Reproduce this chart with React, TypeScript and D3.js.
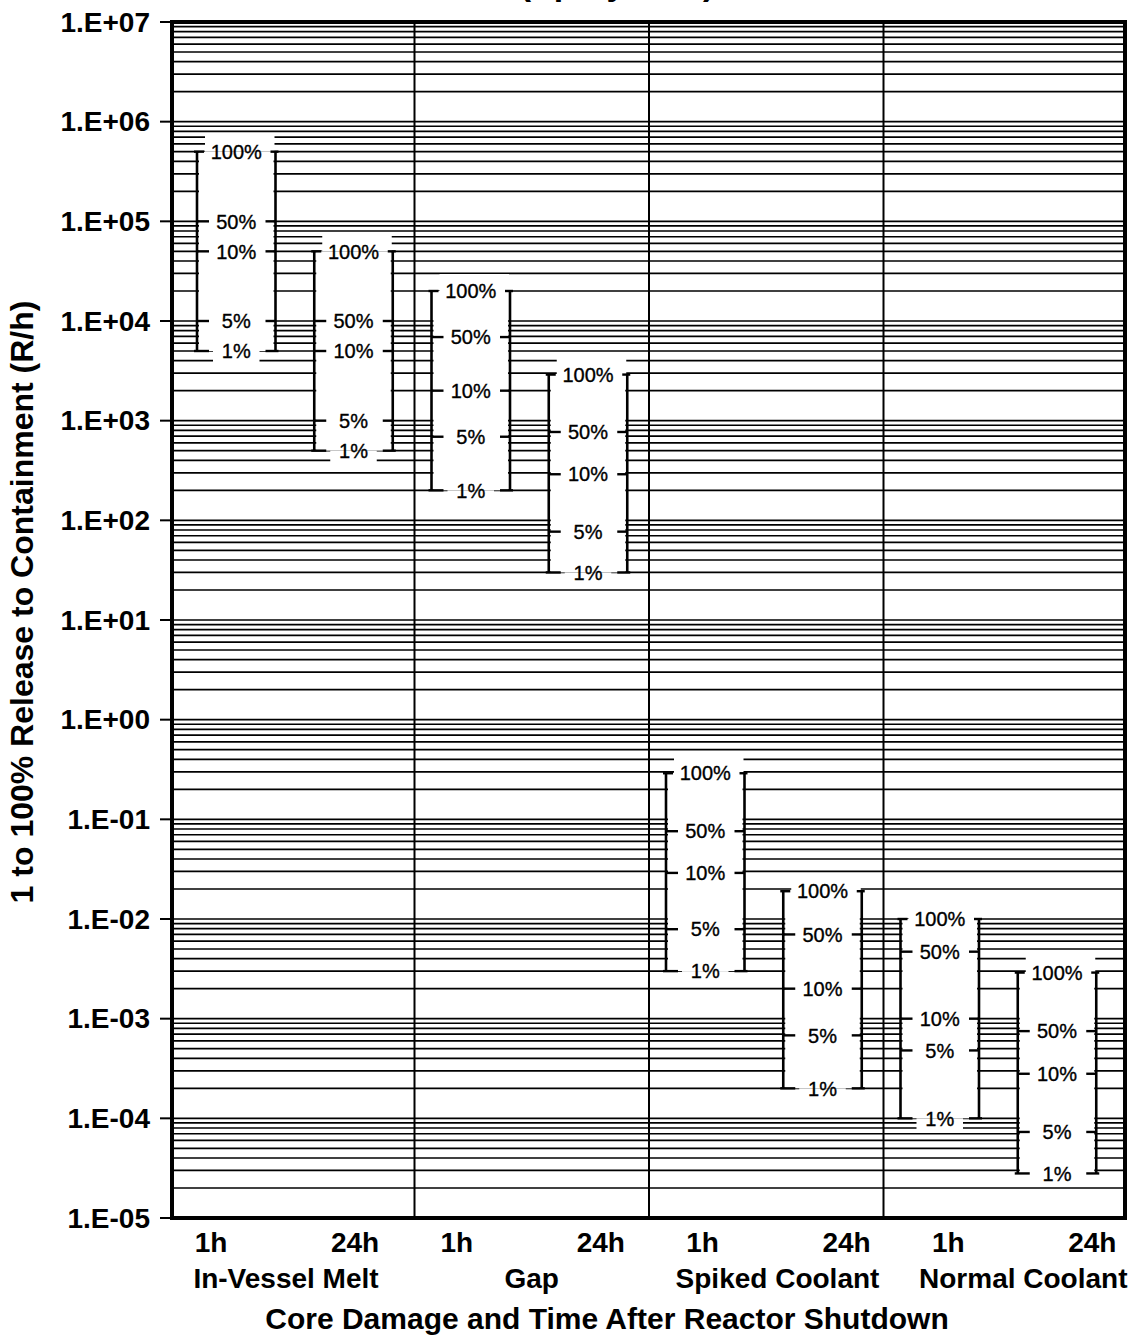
import * as d3 from 'd3'

// --- DATA ---
const categories = ['In-Vessel Melt', 'Gap', 'Spiked Coolant', 'Normal Coolant']
const times = ['1h', '24h']
const percentLabels = ['100%', '50%', '10%', '5%', '1%']

// R/h where each release mark sits (100%, 50%, 10%, 5%, 1%)
const inVesselMelt1h = [5e5, 1e5, 5e4, 1e4, 5e3]
const inVesselMelt24h = [5e4, 1e4, 5e3, 1e3, 5e2]
const gap1h = [2e4, 6.9e3, 2e3, 6.9e2, 2e2]
const gap24h = [2.9e3, 7.7e2, 2.9e2, 7.7e1, 3e1]
const spiked1h = [2.9e-1, 7.6e-2, 2.9e-2, 7.9e-3, 3e-3]
const spiked24h = [1.9e-2, 7e-3, 2e-3, 6.8e-4, 2e-4]
const normal1h = [1e-2, 4.7e-3, 1e-3, 4.8e-4, 1e-4]
const normal24h = [2.9e-3, 7.5e-4, 2.8e-4, 7.3e-5, 2.8e-5]

const readings: Record<string, number[][]> = {
  'In-Vessel Melt': [inVesselMelt1h, inVesselMelt24h],
  Gap: [gap1h, gap24h],
  'Spiked Coolant': [spiked1h, spiked24h],
  'Normal Coolant': [normal1h, normal24h],
}

const decades = d3.range(-5, 8)

const FONT = "'Liberation Sans', Arial, Helvetica, sans-serif"

const fmtDecade = (e: number) =>
  `1.E${e >= 0 ? '+' : '-'}${String(Math.abs(e)).padStart(2, '0')}`

export default function App() {
  const width = 1132
  const height = 1335
  const plot = { left: 172, right: 1125, top: 22, bottom: 1218 }

  // --- SCALES ---
  const y = d3.scaleLog().domain([1e-5, 1e7]).range([plot.bottom, plot.top])
  const xCat = d3.scaleBand<string>().domain(categories).range([180, 1118])
  const xTime = d3.scaleBand<string>().domain(times).range([0, xCat.bandwidth()])
  const xLabel = d3.scaleBand<string>().domain(categories).range([180, 1163])
  const xTimeLabel = d3.scalePoint<string>().domain(times).range([31, 175])

  const bracketInset = 17
  const bracketWidth = 78.5

  const grid = y.ticks(20)

  const brackets = categories.flatMap((c) =>
    times.map((t, ti) => {
      const L = (xCat(c) ?? 0) + (xTime(t) ?? 0) + bracketInset
      return { key: `${c}-${t}`, L, R: L + bracketWidth, vals: readings[c][ti] }
    })
  )

  return (
    <svg
      width={width}
      height={height}
      style={{ position: 'absolute', left: 0, top: 0, background: '#fff' }}
      fontFamily={FONT}
    >
      <rect width={width} height={height} fill="#fff" />

      {/* title line, cut off at the top like the source page */}
      <text x={617} y={-5} textAnchor="middle" fontSize={34} fontWeight="bold">
        (Sprays Off)
      </text>

      {/* --- GRID --- */}
      {grid.map((v) => (
        <line
          key={`g${v}`}
          x1={plot.left}
          x2={plot.right}
          y1={y(v)}
          y2={y(v)}
          stroke="#000"
          strokeWidth={1.7}
        />
      ))}

      {/* --- WHITE AREAS AROUND BRACKETS --- */}
      {brackets.map((b) => {
        const yt = y(b.vals[0])
        const yb = y(b.vals[b.vals.length - 1])
        return (
          <g key={`m${b.key}`} fill="#fff">
            <rect x={b.L + 2} y={yt} width={b.R - b.L - 4} height={yb - yt} />
            <rect x={b.L + 8} y={yt - 17} width={b.R - b.L - 9} height={17} />
            <rect x={b.L + 16} y={yb} width={b.R - b.L - 32} height={13} />
          </g>
        )
      })}

      {/* --- SEPARATORS --- */}
      {categories.slice(1).map((c) => (
        <line
          key={`s${c}`}
          x1={xCat(c)}
          x2={xCat(c)}
          y1={plot.top}
          y2={plot.bottom}
          stroke="#000"
          strokeWidth={2}
        />
      ))}

      {/* --- BRACKETS --- */}
      {brackets.map((b) => {
        const yt = y(b.vals[0])
        const yb = y(b.vals[b.vals.length - 1])
        const mid = (b.L + b.R) / 2
        return (
          <g key={`b${b.key}`}>
            <line x1={b.L} x2={b.L} y1={yt} y2={yb} stroke="#000" strokeWidth={2.6} />
            <line x1={b.R} x2={b.R} y1={yt} y2={yb} stroke="#000" strokeWidth={2.6} />
            {b.vals.map((v, i) => {
              const end = i === 0 || i === b.vals.length - 1
              const first = i === 0
              return (
                <g key={percentLabels[i]}>
                  <line
                    x1={end ? b.L - 3 : b.L}
                    x2={b.L + (first ? 7 : 12)}
                    y1={y(v)}
                    y2={y(v)}
                    stroke="#000"
                    strokeWidth={2.4}
                  />
                  <line
                    x1={b.R - (first ? 5 : 10)}
                    x2={end ? b.R + 3 : b.R}
                    y1={y(v)}
                    y2={y(v)}
                    stroke="#000"
                    strokeWidth={2.4}
                  />
                  <text
                    x={mid}
                    y={y(v)}
                    dy="0.36em"
                    textAnchor="middle"
                    fontSize={20}
                    stroke="#000"
                    strokeWidth={0.35}
                  >
                    {percentLabels[i]}
                  </text>
                </g>
              )
            })}
          </g>
        )
      })}

      {/* --- Y AXIS --- */}
      {decades.map((e) => (
        <g key={`d${e}`}>
          <line
            x1={160}
            x2={plot.left}
            y1={y(Math.pow(10, e))}
            y2={y(Math.pow(10, e))}
            stroke="#000"
            strokeWidth={2}
          />
          <text
            x={150}
            y={y(Math.pow(10, e))}
            dy="0.35em"
            textAnchor="end"
            fontSize={28}
            fontWeight="bold"
          >
            {fmtDecade(e)}
          </text>
        </g>
      ))}

      <text
        transform="translate(22, 602) rotate(-90)"
        textAnchor="middle"
        dy="0.35em"
        fontSize={32}
        fontWeight="bold"
      >
        1 to 100% Release to Containment (R/h)
      </text>

      {/* --- FRAME --- */}
      <rect
        x={plot.left}
        y={plot.top}
        width={plot.right - plot.left}
        height={plot.bottom - plot.top}
        fill="none"
        stroke="#000"
        strokeWidth={4}
      />

      {/* --- X LABELS --- */}
      {categories.map((c) => (
        <g key={`x${c}`}>
          {times.map((t) => (
            <text
              key={t}
              x={(xLabel(c) ?? 0) + (xTimeLabel(t) ?? 0)}
              y={1252}
              textAnchor="middle"
              fontSize={28}
              fontWeight="bold"
            >
              {t}
            </text>
          ))}
          <text
            x={(xLabel(c) ?? 0) + 106}
            y={1288}
            textAnchor="middle"
            fontSize={28}
            fontWeight="bold"
          >
            {c}
          </text>
        </g>
      ))}

      <text x={607} y={1329} textAnchor="middle" fontSize={30} fontWeight="bold">
        Core Damage and Time After Reactor Shutdown
      </text>
    </svg>
  )
}
